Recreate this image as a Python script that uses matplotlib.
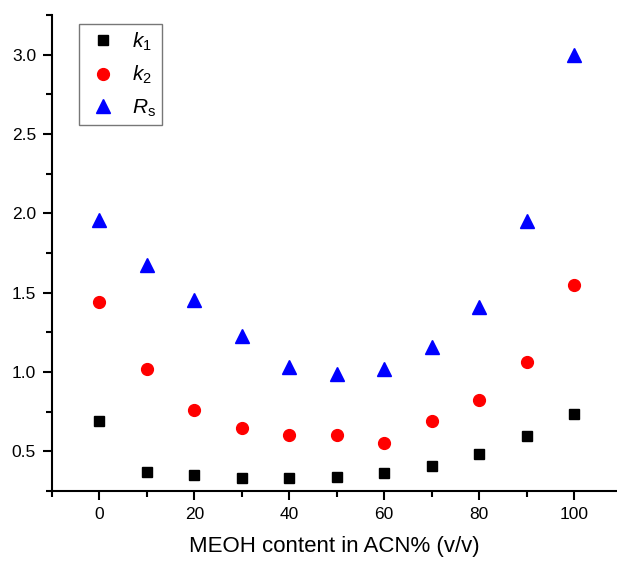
import matplotlib.pyplot as plt
from matplotlib.ticker import MultipleLocator

plt.rcParams['font.family'] = ['Liberation Sans', 'DejaVu Sans']
plt.rcParams['mathtext.fontset'] = 'custom'
plt.rcParams['mathtext.it'] = 'Liberation Sans:italic'
plt.rcParams['mathtext.rm'] = 'Liberation Sans'

# MEOH content (%) and measured values
meoh = [0, 10, 20, 30, 40, 50, 60, 70, 80, 90, 100]
k1 = [0.69, 0.37, 0.35, 0.335, 0.33, 0.34, 0.365, 0.41, 0.48, 0.595, 0.735]
k2 = [1.44, 1.02, 0.76, 0.645, 0.60, 0.60, 0.555, 0.69, 0.825, 1.06, 1.55]
rs = [1.96, 1.675, 1.455, 1.225, 1.03, 0.99, 1.02, 1.155, 1.41, 1.95, 3.0]

fig = plt.figure(figsize=(6.17, 5.61), dpi=100)
ax = fig.add_axes([0.0843, 0.1248, 0.9157, 0.8485])

ax.plot(meoh, k1, 's', color='black', ms=7.5, ls='none', label='$k_1$')
ax.plot(meoh, k2, 'o', color='red', ms=8.5, ls='none', label='$k_2$')
ax.plot(meoh, rs, '^', color='blue', ms=10, ls='none', label='$R_\\mathrm{s}$')

ax.set_xlim(-10, 109.05)
ax.set_ylim(0.25, 3.25)

ax.spines['top'].set_visible(False)
ax.spines['right'].set_visible(False)
for s in ['left', 'bottom']:
    ax.spines[s].set_linewidth(1.5)

ax.xaxis.set_major_locator(MultipleLocator(20))
ax.xaxis.set_minor_locator(MultipleLocator(10))
ax.yaxis.set_major_locator(MultipleLocator(0.5))
ax.yaxis.set_minor_locator(MultipleLocator(0.25))
ax.set_yticks([0.5, 1.0, 1.5, 2.0, 2.5, 3.0])
ax.tick_params(which='major', direction='out', length=6.5, width=1.5,
               labelsize=12.5, pad=5)
ax.tick_params(which='minor', direction='out', length=4, width=1.5)
ax.yaxis.set_major_formatter(plt.FormatStrFormatter('%.1f'))

ax.set_xlabel('MEOH content in ACN% (v/v)', fontsize=16, labelpad=10)

leg = ax.legend(loc='upper left', bbox_to_anchor=(0.048, 0.981), fontsize=15,
                frameon=True, fancybox=False, edgecolor='#555555',
                borderaxespad=0, handletextpad=0.55, borderpad=0.3,
                labelspacing=0.55, handlelength=1.7)
leg.get_frame().set_linewidth(1.0)

fig.savefig('out.png', dpi=100)
